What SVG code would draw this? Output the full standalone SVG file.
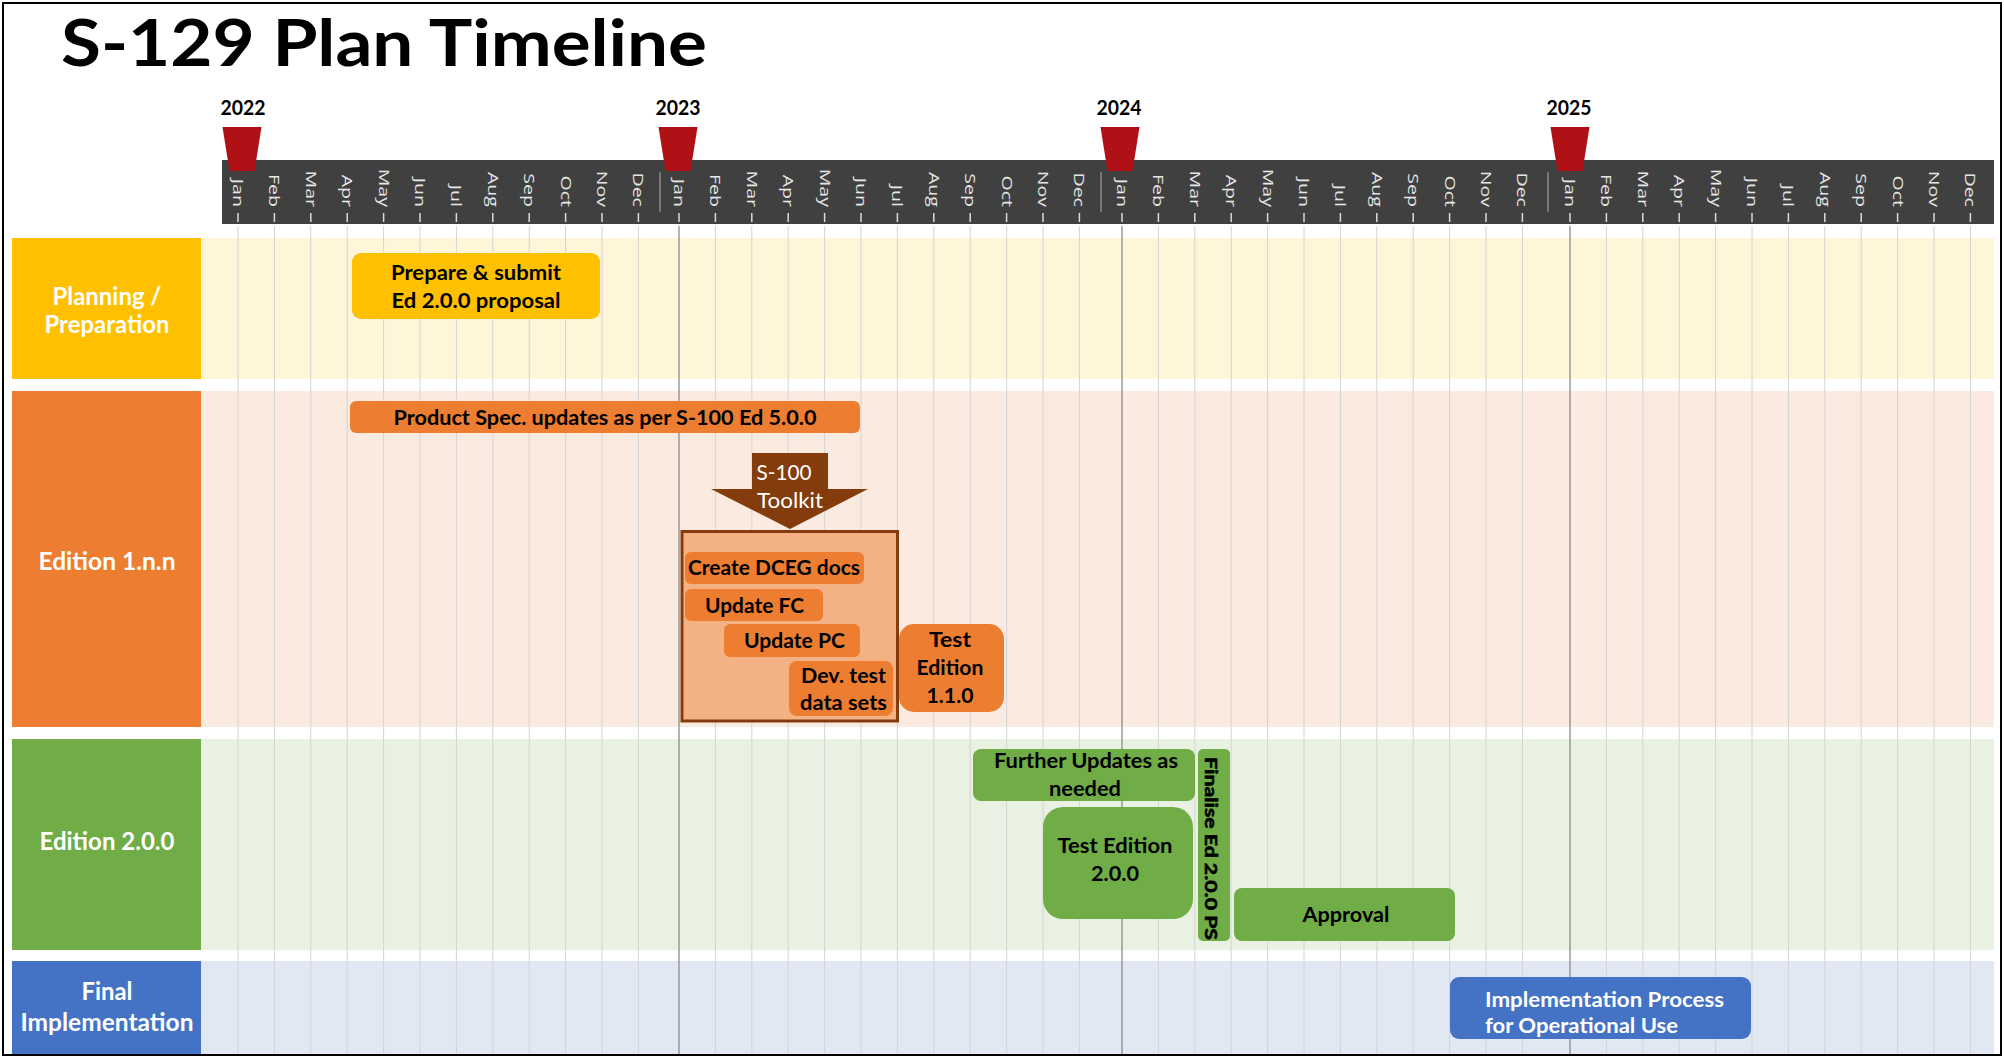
<svg xmlns="http://www.w3.org/2000/svg" width="2004" height="1057" viewBox="0 0 2004 1057">
<style>
.lbl{font-family:Lato,"Open Sans",sans-serif;font-weight:bold;font-size:24px;fill:#fff;text-anchor:middle}
.t{font-family:Lato,"Open Sans",sans-serif;font-weight:bold;font-size:20px;fill:#000;text-anchor:middle}
.tw{font-family:Lato,"Open Sans",sans-serif;font-weight:bold;font-size:20px;fill:#fff}
.yr{font-family:Lato,"Open Sans",sans-serif;font-weight:bold;font-size:21px;fill:#000;text-anchor:middle}
.m{font-family:"Open Sans",sans-serif;font-size:14.5px;fill:#E6E6E6;text-anchor:end}
.grid{stroke:#D4D4D4;stroke-width:1;fill:none}
.ygrid{stroke:#8C8C8C;stroke-width:1.3;fill:none}
.tick{stroke:#D9D9D9;stroke-width:1.5;fill:none}
.sep{stroke:#8A8A8A;stroke-width:1.5;fill:none}
.mk{fill:#AF1116}
.or{fill:#ED7D31}
.gr{fill:#70AD47}
</style>
<rect x="0" y="0" width="2004" height="1057" fill="#fff"/>
<g id="lanes-bg">
<rect x="201" y="238" width="1793" height="141" fill="#FFF5D9"/>
<rect x="201" y="391" width="1793" height="336" fill="#FBEADF"/>
<rect x="201" y="739" width="1793" height="211" fill="#E9F1E2"/>
<rect x="201" y="961" width="1793" height="94" fill="#E1E7F3"/>
</g>
<g id="grid">
<path class="grid" d="M238 226V1055M274.4 226V1055M310.8 226V1055M347.2 226V1055M383.6 226V1055M420 226V1055M456.4 226V1055M492.8 226V1055M529.2 226V1055M565.6 226V1055M602 226V1055M638.4 226V1055M715.4 226V1055M751.8 226V1055M788.2 226V1055M824.6 226V1055M861 226V1055M897.4 226V1055M933.8 226V1055M970.2 226V1055M1006.6 226V1055M1043 226V1055M1079.4 226V1055M1158.4 226V1055M1194.8 226V1055M1231.2 226V1055M1267.6 226V1055M1304 226V1055M1340.4 226V1055M1376.8 226V1055M1413.2 226V1055M1449.6 226V1055M1486 226V1055M1522.4 226V1055M1606.4 226V1055M1642.8 226V1055M1679.2 226V1055M1715.6 226V1055M1752 226V1055M1788.4 226V1055M1824.8 226V1055M1861.2 226V1055M1897.6 226V1055M1934 226V1055M1970.4 226V1055"/>
<path class="ygrid" d="M679 226V1055M1122 226V1055M1570 226V1055"/>
</g>
<g id="timeline">
<rect x="222" y="160" width="1772" height="64" fill="#404040"/>
<path class="sep" d="M660 172V212M1101 172V212M1548 172V212"/>
<path class="tick" d="M238 213V222M274.4 213V222M310.8 213V222M347.2 213V222M383.6 213V222M420 213V222M456.4 213V222M492.8 213V222M529.2 213V222M565.6 213V222M602 213V222M638.4 213V222M679 213V222M715.4 213V222M751.8 213V222M788.2 213V222M824.6 213V222M861 213V222M897.4 213V222M933.8 213V222M970.2 213V222M1006.6 213V222M1043 213V222M1079.4 213V222M1122 213V222M1158.4 213V222M1194.8 213V222M1231.2 213V222M1267.6 213V222M1304 213V222M1340.4 213V222M1376.8 213V222M1413.2 213V222M1449.6 213V222M1486 213V222M1522.4 213V222M1570 213V222M1606.4 213V222M1642.8 213V222M1679.2 213V222M1715.6 213V222M1752 213V222M1788.4 213V222M1824.8 213V222M1861.2 213V222M1897.6 213V222M1934 213V222M1970.4 213V222"/>
<g id="months">
<text class="m" transform="translate(233,207) rotate(90) scale(1.35,1)">Jan</text>
<text class="m" transform="translate(269.4,207) rotate(90) scale(1.35,1)">Feb</text>
<text class="m" transform="translate(305.8,207) rotate(90) scale(1.35,1)">Mar</text>
<text class="m" transform="translate(342.2,207) rotate(90) scale(1.35,1)">Apr</text>
<text class="m" transform="translate(378.6,207) rotate(90) scale(1.35,1)">May</text>
<text class="m" transform="translate(415,207) rotate(90) scale(1.35,1)">Jun</text>
<text class="m" transform="translate(451.4,207) rotate(90) scale(1.35,1)">Jul</text>
<text class="m" transform="translate(487.8,207) rotate(90) scale(1.35,1)">Aug</text>
<text class="m" transform="translate(524.2,207) rotate(90) scale(1.35,1)">Sep</text>
<text class="m" transform="translate(560.6,207) rotate(90) scale(1.35,1)">Oct</text>
<text class="m" transform="translate(597,207) rotate(90) scale(1.35,1)">Nov</text>
<text class="m" transform="translate(633.4,207) rotate(90) scale(1.35,1)">Dec</text>
<text class="m" transform="translate(674,207) rotate(90) scale(1.35,1)">Jan</text>
<text class="m" transform="translate(710.4,207) rotate(90) scale(1.35,1)">Feb</text>
<text class="m" transform="translate(746.8,207) rotate(90) scale(1.35,1)">Mar</text>
<text class="m" transform="translate(783.2,207) rotate(90) scale(1.35,1)">Apr</text>
<text class="m" transform="translate(819.6,207) rotate(90) scale(1.35,1)">May</text>
<text class="m" transform="translate(856,207) rotate(90) scale(1.35,1)">Jun</text>
<text class="m" transform="translate(892.4,207) rotate(90) scale(1.35,1)">Jul</text>
<text class="m" transform="translate(928.8,207) rotate(90) scale(1.35,1)">Aug</text>
<text class="m" transform="translate(965.2,207) rotate(90) scale(1.35,1)">Sep</text>
<text class="m" transform="translate(1001.6,207) rotate(90) scale(1.35,1)">Oct</text>
<text class="m" transform="translate(1038,207) rotate(90) scale(1.35,1)">Nov</text>
<text class="m" transform="translate(1074.4,207) rotate(90) scale(1.35,1)">Dec</text>
<text class="m" transform="translate(1117,207) rotate(90) scale(1.35,1)">Jan</text>
<text class="m" transform="translate(1153.4,207) rotate(90) scale(1.35,1)">Feb</text>
<text class="m" transform="translate(1189.8,207) rotate(90) scale(1.35,1)">Mar</text>
<text class="m" transform="translate(1226.2,207) rotate(90) scale(1.35,1)">Apr</text>
<text class="m" transform="translate(1262.6,207) rotate(90) scale(1.35,1)">May</text>
<text class="m" transform="translate(1299,207) rotate(90) scale(1.35,1)">Jun</text>
<text class="m" transform="translate(1335.4,207) rotate(90) scale(1.35,1)">Jul</text>
<text class="m" transform="translate(1371.8,207) rotate(90) scale(1.35,1)">Aug</text>
<text class="m" transform="translate(1408.2,207) rotate(90) scale(1.35,1)">Sep</text>
<text class="m" transform="translate(1444.6,207) rotate(90) scale(1.35,1)">Oct</text>
<text class="m" transform="translate(1481,207) rotate(90) scale(1.35,1)">Nov</text>
<text class="m" transform="translate(1517.4,207) rotate(90) scale(1.35,1)">Dec</text>
<text class="m" transform="translate(1565,207) rotate(90) scale(1.35,1)">Jan</text>
<text class="m" transform="translate(1601.4,207) rotate(90) scale(1.35,1)">Feb</text>
<text class="m" transform="translate(1637.8,207) rotate(90) scale(1.35,1)">Mar</text>
<text class="m" transform="translate(1674.2,207) rotate(90) scale(1.35,1)">Apr</text>
<text class="m" transform="translate(1710.6,207) rotate(90) scale(1.35,1)">May</text>
<text class="m" transform="translate(1747,207) rotate(90) scale(1.35,1)">Jun</text>
<text class="m" transform="translate(1783.4,207) rotate(90) scale(1.35,1)">Jul</text>
<text class="m" transform="translate(1819.8,207) rotate(90) scale(1.35,1)">Aug</text>
<text class="m" transform="translate(1856.2,207) rotate(90) scale(1.35,1)">Sep</text>
<text class="m" transform="translate(1892.6,207) rotate(90) scale(1.35,1)">Oct</text>
<text class="m" transform="translate(1929,207) rotate(90) scale(1.35,1)">Nov</text>
<text class="m" transform="translate(1965.4,207) rotate(90) scale(1.35,1)">Dec</text>
</g>
<g id="year-markers">
<polygon class="mk" points="222.5,127 261.5,127 254.5,171 229.5,171"/>
<polygon class="mk" points="658.5,127 697.5,127 690.5,171 665.5,171"/>
<polygon class="mk" points="1100.5,127 1139.5,127 1132.5,171 1107.5,171"/>
<polygon class="mk" points="1550.5,127 1589.5,127 1582.5,171 1557.5,171"/>
<text class="yr" x="243" y="115" textLength="45" lengthAdjust="spacingAndGlyphs">2022</text>
<text class="yr" x="678" y="115" textLength="45" lengthAdjust="spacingAndGlyphs">2023</text>
<text class="yr" x="1119" y="115" textLength="45" lengthAdjust="spacingAndGlyphs">2024</text>
<text class="yr" x="1569" y="115" textLength="45" lengthAdjust="spacingAndGlyphs">2025</text>
</g>
</g>
<g id="title">
<text x="61" y="66" font-family="Lato, 'Open Sans', sans-serif" font-weight="bold" font-size="65" fill="#000" textLength="646" lengthAdjust="spacingAndGlyphs">S-129 Plan Timeline</text>
</g>
<g id="lane-planning">
<rect x="12" y="238" width="189" height="141" fill="#FFC000"/>
<text class="lbl" x="107" y="305" textLength="109" lengthAdjust="spacingAndGlyphs">Planning /</text>
<text class="lbl" x="107" y="333" textLength="125" lengthAdjust="spacingAndGlyphs">Preparation</text>
</g>
<g id="lane-ed1">
<rect x="12" y="391" width="189" height="336" fill="#ED7D31"/>
<text class="lbl" x="107" y="570" textLength="137" lengthAdjust="spacingAndGlyphs">Edition 1.n.n</text>
</g>
<g id="lane-ed2">
<rect x="12" y="739" width="189" height="211" fill="#70AD47"/>
<text class="lbl" x="107" y="850" textLength="135" lengthAdjust="spacingAndGlyphs">Edition 2.0.0</text>
</g>
<g id="lane-final">
<rect x="12" y="961" width="189" height="94" fill="#4472C4"/>
<text class="lbl" x="107" y="1000" textLength="51" lengthAdjust="spacingAndGlyphs">Final</text>
<text class="lbl" x="107" y="1031" textLength="173" lengthAdjust="spacingAndGlyphs">Implementation</text>
</g>
<g id="task-prepare">
<rect x="352" y="253" width="248" height="66" rx="9" fill="#FFC000"/>
<text class="t" x="476" y="280" textLength="170" lengthAdjust="spacingAndGlyphs">Prepare &amp; submit</text>
<text class="t" x="476" y="308" textLength="169" lengthAdjust="spacingAndGlyphs">Ed 2.0.0 proposal</text>
</g>
<g id="task-product-spec">
<rect x="350" y="401" width="510" height="32" rx="6" class="or"/>
<text class="t" x="605" y="425" textLength="423" lengthAdjust="spacingAndGlyphs">Product Spec. updates as per S-100 Ed 5.0.0</text>
</g>
<g id="toolkit">
<polygon points="752,453 828,453 828,489 868,489 790,529 711,489 752,489" fill="#843C0C"/>
<text x="784" y="480" font-family="Lato, 'Open Sans', sans-serif" font-size="21" fill="#fff" text-anchor="middle" textLength="55" lengthAdjust="spacingAndGlyphs">S-100</text>
<text x="790" y="508" font-family="Lato, 'Open Sans', sans-serif" font-size="21" fill="#fff" text-anchor="middle" textLength="66" lengthAdjust="spacingAndGlyphs">Toolkit</text>
</g>
<g id="toolkit-group">
<rect x="682" y="531.5" width="215.5" height="189.5" fill="#F4B183" stroke="#843C0C" stroke-width="3"/>
</g>
<g id="task-dceg">
<rect x="685" y="552" width="179" height="32" rx="6" class="or"/>
<text class="t" x="774" y="575" textLength="172" lengthAdjust="spacingAndGlyphs">Create DCEG docs</text>
</g>
<g id="task-fc">
<rect x="685" y="589" width="138" height="32" rx="6" class="or"/>
<text class="t" x="754.5" y="613" textLength="99" lengthAdjust="spacingAndGlyphs">Update FC</text>
</g>
<g id="task-pc">
<rect x="724" y="624" width="136" height="33" rx="6" class="or"/>
<text class="t" x="794.5" y="648" textLength="101" lengthAdjust="spacingAndGlyphs">Update PC</text>
</g>
<g id="task-dev-test">
<rect x="789" y="661" width="104" height="55" rx="8" class="or"/>
<text class="t" x="843.5" y="683" textLength="85" lengthAdjust="spacingAndGlyphs">Dev. test</text>
<text class="t" x="843.5" y="710" textLength="87" lengthAdjust="spacingAndGlyphs">data sets</text>
</g>
<g id="task-test-110">
<rect x="899" y="624" width="105" height="88" rx="15" class="or"/>
<text class="t" x="950" y="647" textLength="42" lengthAdjust="spacingAndGlyphs">Test</text>
<text class="t" x="950" y="675" textLength="67" lengthAdjust="spacingAndGlyphs">Edition</text>
<text class="t" x="950" y="703" textLength="47" lengthAdjust="spacingAndGlyphs">1.1.0</text>
</g>
<g id="task-further">
<rect x="973" y="749" width="222" height="52" rx="8" class="gr"/>
<text class="t" x="1086" y="768" textLength="184" lengthAdjust="spacingAndGlyphs">Further Updates as</text>
<text class="t" x="1085" y="796" textLength="72" lengthAdjust="spacingAndGlyphs">needed</text>
</g>
<g id="task-test-200">
<rect x="1043" y="807" width="150" height="112" rx="20" class="gr"/>
<text class="t" x="1115" y="853" textLength="115" lengthAdjust="spacingAndGlyphs">Test Edition</text>
<text class="t" x="1115" y="881" textLength="48" lengthAdjust="spacingAndGlyphs">2.0.0</text>
</g>
<g id="task-finalise">
<rect x="1198" y="749" width="32" height="192" rx="5" class="gr"/>
<text class="t" style="text-anchor:start;font-size:17px;stroke:#000;stroke-width:0.6px" transform="translate(1205,757) rotate(90)" textLength="183" lengthAdjust="spacingAndGlyphs">Finalise Ed 2.0.0 PS</text>
</g>
<g id="task-approval">
<rect x="1234" y="888" width="221" height="53" rx="8" class="gr"/>
<text class="t" x="1346" y="922" textLength="87" lengthAdjust="spacingAndGlyphs">Approval</text>
</g>
<g id="task-implementation">
<rect x="1450" y="977" width="301" height="62" rx="9" fill="#4472C4"/>
<text class="tw" x="1485" y="1007" textLength="239" lengthAdjust="spacingAndGlyphs">Implementation Process</text>
<text class="tw" x="1485" y="1033" textLength="193" lengthAdjust="spacingAndGlyphs">for Operational Use</text>
</g>
<g id="connectors"></g>
<rect x="3" y="3" width="1998" height="1052" fill="none" stroke="#000" stroke-width="2"/>
</svg>
